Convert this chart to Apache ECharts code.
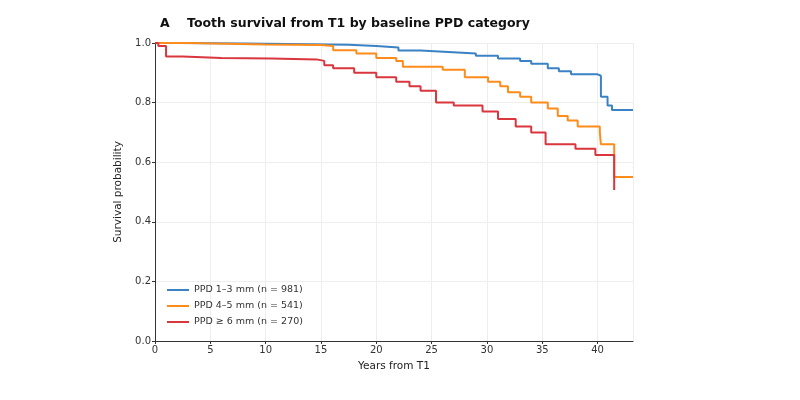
<!DOCTYPE html><html><head><meta charset="utf-8"><script src="https://cdn.jsdelivr.net/npm/echarts@6/dist/echarts.min.js"></script></head><body style="margin:0;background:#fff"><div id="c" style="width:800px;height:400px"></div><script>
const blue=[[0,1],[2,0.998],[8,0.996],[14,0.994],[17.5,0.99],[20,0.985],[22,0.975],[24,0.97],[26.5,0.965],[29,0.957],[31,0.948],[33,0.94],[34,0.93],[35.5,0.915],[36.5,0.905],[37.6,0.895],[40,0.89],[40.3,0.82],[40.9,0.79],[41.3,0.775],[43.2,0.775]];
const orange=[[0,1],[3,0.995],[10,0.993],[15,0.99],[16.1,0.976],[18.2,0.965],[20,0.95],[21.8,0.94],[22.4,0.92],[26,0.91],[28,0.885],[30.1,0.87],[31.2,0.855],[31.9,0.835],[33,0.82],[34,0.8],[35.5,0.78],[36.4,0.755],[37.3,0.74],[38.2,0.72],[40.2,0.7],[40.3,0.66],[41.5,0.55],[43.2,0.55]];
const red=[[0,1],[0.3,0.99],[1,0.955],[2.5,0.95],[6,0.948],[10.5,0.945],[14.6,0.94],[15.3,0.925],[16.1,0.915],[18,0.9],[20,0.885],[21.8,0.87],[23,0.855],[24,0.84],[25.4,0.8],[27,0.79],[29.6,0.77],[31,0.745],[32.6,0.72],[34,0.7],[35.3,0.66],[38,0.645],[39.8,0.624],[41.5,0.507]];
const names=['PPD 1–3 mm (n = 981)','PPD 4–5 mm (n = 541)','PPD ≥ 6 mm (n = 270)'];
const cols=['#3b82c4','#ff8c1a','#d9363e'];
const ch=echarts.init(document.getElementById('c'));
const ax={fontFamily:'DejaVu Sans',fontSize:10,color:'#333'};
ch.setOption({animation:false,textStyle:{fontFamily:'DejaVu Sans'},
title:{text:'A    Tooth survival from T1 by baseline PPD category',left:155,top:12,textStyle:{fontSize:12.5,fontWeight:'bold',color:'#111'}},
grid:{left:155,right:167,top:43,bottom:59},
legend:{orient:'vertical',left:162,bottom:68,itemWidth:22,itemHeight:2,itemGap:6,icon:'rect',textStyle:{fontSize:9.5,color:'#333'},data:names},
xAxis:{type:'value',min:0,max:43.2,interval:5,name:'Years from T1',nameLocation:'middle',nameGap:20,nameTextStyle:{fontSize:10.5,color:'#222'},axisLabel:Object.assign({showMaxLabel:false,margin:4},ax),axisLine:{lineStyle:{color:'#333'}},axisTick:{lineStyle:{color:'#333'},length:3},splitLine:{lineStyle:{color:'#eee'}}},
yAxis:{type:'value',min:0,max:1,interval:0.2,name:'Survival probability',nameLocation:'middle',nameGap:30,nameTextStyle:{fontSize:10.5,color:'#222'},axisLabel:Object.assign({formatter:v=>v.toFixed(1),margin:4},ax),axisLine:{show:true,lineStyle:{color:'#333'}},axisTick:{show:true,lineStyle:{color:'#333'},length:3},splitLine:{lineStyle:{color:'#eee'}}},
series:[blue,orange,red].map((d,i)=>({name:names[i],type:'line',step:'end',data:d,showSymbol:false,lineStyle:{width:2,color:cols[i]},itemStyle:{color:cols[i]}}))});
</script></body></html>
